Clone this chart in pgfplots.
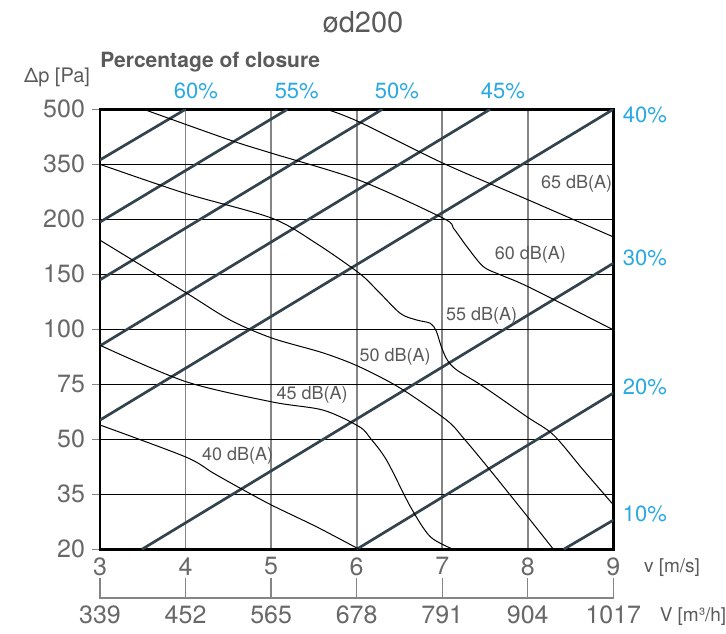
\documentclass[border=0pt]{standalone}
\usepackage{fontspec}
\setmainfont{TeX Gyre Heros}
\usepackage{pgfplots}
\pgfplotsset{compat=1.18}
\definecolor{txt}{HTML}{5A5A5A}
\definecolor{tick}{HTML}{686868}
\definecolor{cy}{HTML}{29A9E1}
\definecolor{slate}{HTML}{33434E}
\definecolor{vgrid}{HTML}{858585}
\begin{document}
\begin{tikzpicture}
\useasboundingbox (0,0) rectangle (363pt,316.5pt);
\begin{axis}[
 at={(50pt,41.85pt)}, anchor=south west,
 width=256.65pt, height=220pt, scale only axis,
 xmin=3, xmax=9, ymin=0, ymax=8,
 xtick={3,4,5,6,7,8,9}, xticklabels={3,4,5,6,7,8,9},
 ytick={0,1,2,3,4,5,6,7,8}, yticklabels={20,35,50,75,100,150,200,350,500},
 xmajorgrids, ymajorgrids,
 x grid style={vgrid, line width=0.9pt},
 y grid style={black, line width=0.55pt},
 axis line style={black, line width=1.2pt},
 tick align=outside,
 xtick style={draw=none},
 ytick style={vgrid, line width=0.7pt},
 major tick length=4pt,
 ytick pos=left, xtick pos=bottom,
 ticklabel style={font=\fontsize{12.5}{12.5}\selectfont, text=tick},
 xticklabel style={yshift=3.5pt},
 clip mode=individual,
]
% percentage-of-closure lines
\addplot[slate, line width=1.35pt] coordinates {(3,7.08) (4.0,8)};
\addplot[slate, line width=1.35pt] coordinates {(3,5.95) (5.19,8)};
\addplot[slate, line width=1.35pt] coordinates {(3,4.90) (6.30,8)};
\addplot[slate, line width=1.35pt] coordinates {(3,3.70) (7.56,8)};
\addplot[slate, line width=1.35pt] coordinates {(3,2.35) (9,8)};
\addplot[slate, line width=1.35pt] coordinates {(3.49,0) (9,5.2)};
\addplot[slate, line width=1.35pt] coordinates {(6.0,0) (9,2.84)};
\addplot[slate, line width=1.35pt] coordinates {(8.42,0) (9,0.53)};
% sound level curves
\addplot[black, line width=0.5pt, smooth] coordinates {(3,2.26) (4.0,1.68) (4.32,1.39) (4.64,1.11) (5.01,0.80) (5.53,0.41) (6.03,0)};
\addplot[black, line width=0.5pt, smooth] coordinates {(3,3.71) (4.0,3.05) (5.01,2.68) (5.61,2.53) (6.03,2.23) (6.16,2.02) (6.35,1.62) (6.63,0.77) (6.86,0.23) (7.13,0)};
\addplot[black, line width=0.5pt, smooth] coordinates {(3,5.62) (4.0,4.67) (4.52,4.17) (5.01,3.84) (5.61,3.57) (6.03,3.32) (6.51,2.93) (7.05,2.35) (7.25,2.02) (7.56,1.44) (8.03,0.53) (8.30,0)};
\addplot[black, line width=0.5pt, smooth] coordinates {(3,7.0) (4.0,6.47) (5.01,6.02) (5.53,5.56) (6.03,5.02) (6.24,4.71) (6.51,4.29) (6.70,4.17) (6.86,4.11) (6.93,3.97) (6.99,3.68) (7.06,3.44) (7.17,3.26) (7.48,2.96) (7.99,2.41) (8.30,2.08) (8.65,1.44) (9,0.81)};
\addplot[black, line width=0.5pt, smooth] coordinates {(3.51,8) (4.52,7.44) (5.01,7.2) (6.03,6.71) (7.01,6.02) (7.13,5.84) (7.29,5.50) (7.48,5.14) (7.68,4.99) (8.01,4.77) (9,3.99)};
\addplot[black, line width=0.5pt, smooth] coordinates {(5.65,8) (6.03,7.77) (7.01,7.02) (8.01,6.35) (9,5.68)};
% labels of curves
\begin{scope}[every node/.style={font=\fontsize{9}{9}\selectfont, text=txt, inner sep=0pt}]
\node at (axis cs:4.61,1.70) {40 dB(A)};
\node at (axis cs:5.48,2.81) {45 dB(A)};
\node at (axis cs:6.45,3.50) {50 dB(A)};
\node at (axis cs:7.46,4.24) {55 dB(A)};
\node at (axis cs:8.03,5.35) {60 dB(A)};
\node at (axis cs:8.57,6.64) {65 dB(A)};
\end{scope}
% percentage labels
\begin{scope}[every node/.style={font=\fontsize{11}{11}\selectfont, text=cy, inner sep=0pt}]
\node at (axis cs:4.12,8.33) {60\%};
\node at (axis cs:5.30,8.33) {55\%};
\node at (axis cs:6.47,8.33) {50\%};
\node at (axis cs:7.71,8.33) {45\%};
\node at (axis cs:9.37,7.90) {40\%};
\node at (axis cs:9.37,5.30) {30\%};
\node at (axis cs:9.37,2.95) {20\%};
\node at (axis cs:9.37,0.64) {10\%};
\end{scope}
% second scale (flow rate)
\draw[vgrid, line width=0.7pt] (axis cs:3,-0.52) -- (axis cs:3,-0.885) -- (axis cs:9,-0.885) -- (axis cs:9,-0.52);
\draw[vgrid, line width=0.7pt] (axis cs:4,-0.52) -- (axis cs:4,-0.885);
\draw[vgrid, line width=0.7pt] (axis cs:5,-0.52) -- (axis cs:5,-0.885);
\draw[vgrid, line width=0.7pt] (axis cs:6,-0.52) -- (axis cs:6,-0.885);
\draw[vgrid, line width=0.7pt] (axis cs:7,-0.52) -- (axis cs:7,-0.885);
\draw[vgrid, line width=0.7pt] (axis cs:8,-0.52) -- (axis cs:8,-0.885);
\begin{scope}[every node/.style={font=\fontsize{12.5}{12.5}\selectfont, text=tick, inner sep=0pt}]
\node at (axis cs:3,-1.19) {339};
\node at (axis cs:4,-1.19) {452};
\node at (axis cs:5,-1.19) {565};
\node at (axis cs:6,-1.19) {678};
\node at (axis cs:7,-1.19) {791};
\node at (axis cs:8,-1.19) {904};
\node at (axis cs:9,-1.19) {1017};
\end{scope}
\end{axis}
\node[font=\fontsize{14.5}{14.5}\selectfont, text=txt] at (181.5pt,305.5pt) {ød200};
\node[font=\bfseries\fontsize{10.5}{10.5}\selectfont, text=txt, anchor=west, inner sep=0pt] at (50pt,285.5pt) {Percentage of closure};
\node[font=\fontsize{10}{10}\selectfont, text=txt] at (28.5pt,278pt) {Δp [Pa]};
\node[font=\fontsize{9.5}{9.5}\selectfont, text=txt] at (336pt,32.5pt) {v [m/s]};
\node[font=\fontsize{9.5}{9.5}\selectfont, text=txt] at (346.5pt,8pt) {V [m³/h]};
\end{tikzpicture}
\end{document}
